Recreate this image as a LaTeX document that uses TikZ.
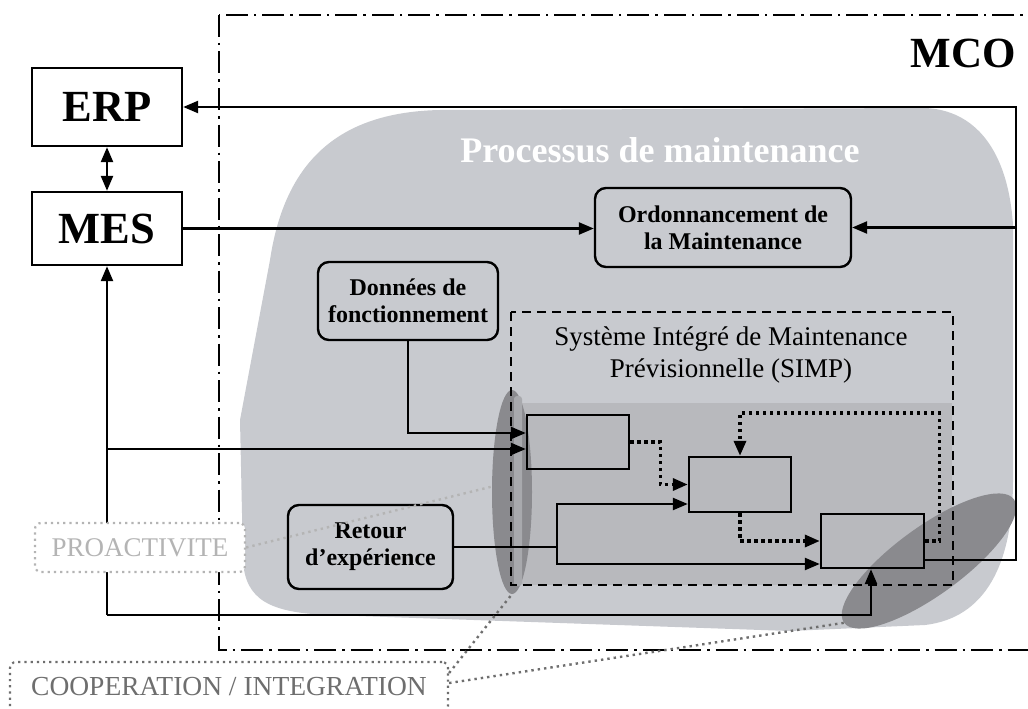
\documentclass[tikz,border=0pt]{standalone}
\usepackage{fontspec}
\setmainfont{Liberation Serif}
\usetikzlibrary{arrows.meta,positioning,shapes.geometric}
\definecolor{procgray}{RGB}{200,202,207}
\definecolor{simpgray}{RGB}{184,185,189}
\definecolor{zonegray}{RGB}{138,138,142}
\definecolor{stripgray}{RGB}{168,169,173}
\definecolor{proxgray}{RGB}{180,180,180}
\definecolor{coopgray}{RGB}{110,110,110}
\tikzset{
    sysbox/.style = {
        draw,
        line width=2.4pt,
        minimum width=150pt,
        inner sep=0pt,
        font=\fontsize{44.5}{50}\selectfont\bfseries,
        },
    taskbox/.style = {
        draw,
        line width=2.4pt,
        rounded corners=11pt,
        inner sep=0pt,
        align=center,
        font=\fontsize{24}{27}\selectfont\bfseries,
        },
    simpblock/.style = {
        draw,
        line width=2.4pt,
        minimum width=102pt,
        minimum height=54pt,
        inner sep=0pt,
        },
    flow/.style = {
        line width=2.4pt,
        -{Triangle[length=15pt, width=12pt]},
        },
    feedback/.style = {
        line width=3.4pt,
        dash pattern=on 3.4pt off 3.6pt,
        -{Triangle[length=15pt, width=12pt]},
        },
    zone/.style = {
        ellipse,
        fill=zonegray,
        inner sep=0pt,
        },
    note/.style = {
        fill=white,
        line width=2.2pt,
        dash pattern=on 2.2pt off 4pt,
        rounded corners=6pt,
        inner sep=0pt,
        },
    link/.style = {
        line width=2.4pt,
        dash pattern=on 2.4pt off 4pt,
        },
}

\begin{document}
\begin{tikzpicture}[x=1pt, y=-1pt]
    \useasboundingbox (0,0) rectangle (1028,709);

    % processus de maintenance
    \fill[procgray] (440,110) -- (925,108) .. controls (975,110) and (1008,150) .. (1013,225)
        -- (1013,480) .. controls (1013,565) and (985,618) .. (925,625) -- (790,631)
        -- (330,615) .. controls (270,613) and (245,600) .. (243,560) -- (240,420)
        -- (270,260) .. controls (285,160) and (340,112) .. (440,110) -- cycle;
    \fill[simpgray] (522,403) rectangle (952,585);
    \node[zone, minimum width=40pt, minimum height=204pt] (lefte) at (512,492) {};
    \node[zone, minimum width=210pt, minimum height=68pt, rotate=36] (righte) at (929,561) {};
    \fill[stripgray, rounded corners=3pt] (514,396) rectangle (522,586);

    \draw[line width=2.2pt, dash pattern=on 22pt off 6pt on 2.5pt off 6pt] (219,15) rectangle (1040,650);
    \draw[line width=2.2pt, dash pattern=on 9pt off 6pt] (511,312) rectangle (953,585);

    \node[font=\fontsize{43}{50}\selectfont\bfseries, anchor=base] (mco) at (963,67) {MCO};
    \node[font=\fontsize{36}{40}\selectfont\bfseries, text=white, anchor=base] (proc) at (660,162) {Processus de maintenance};
    \node[align=center, inner sep=0pt, font=\fontsize{27}{32}\selectfont] (simp) at (731,355) {Système Intégré de Maintenance\\Prévisionnelle (SIMP)};

    \node[sysbox, minimum height=78pt] (erp) at (107,107) {ERP};
    \node[sysbox, minimum height=73pt] (mes) at (107,228.5) {MES};
    \node[taskbox, minimum width=256pt, minimum height=79pt] (ordo) at (723,227.5) {Ordonnancement de\\la Maintenance};
    \node[taskbox, minimum width=180pt, minimum height=78pt] (donnees) at (408,301) {Données de\\fonctionnement};
    \node[taskbox, minimum width=165pt, minimum height=84pt] (retour) at (370.5,547) {Retour\\d’expérience};

    \node[simpblock] (s1) at (578,442) {};
    \node[simpblock, minimum height=55pt] (s2) at (740,484.5) {};
    \node[simpblock, minimum width=103pt] (s3) at (872.5,541) {};

    \coordinate (ne) at (1016,107);
    \coordinate (sw) at (107,615);
    \coordinate (rj) at (557,547);
    \coordinate (m1) at ([yshift=-7pt] s1.west);

    \draw[flow, {Triangle[length=15pt, width=12pt]}-{Triangle[length=15pt, width=12pt]}] (erp) -- (mes);
    \draw[flow] (mes.east) -- (mes.east -| ordo.west);
    \draw[flow] ([yshift=-19pt] s3.east) -| (ne) -- (erp.east);
    \draw[flow] (ne |- ordo.east) -- (ordo.east);
    \draw[flow] (donnees.south) |- ([yshift=9pt] s1.west);
    \draw[flow] (sw) -- (mes.south);
    \draw[flow] (sw |- m1) -- (m1);
    \draw[flow] (sw) -| ([xshift=-1.5pt] s3.south);
    \draw[line width=2.4pt] (retour.east) -- (rj);
    \draw[flow] (rj) |- ([yshift=-19.5pt] s2.west);
    \draw[flow] (rj) |- ([yshift=-23pt] s3.west);

    \draw[feedback] (s1.east) -- ++(30,0) |- (s2.west);
    \draw[feedback] (s2.south) |- (s3.west);
    \draw[feedback] (s3.east) -- ++(14,0) -- ++(0,-128) -| (s2.north);

    \node[note, draw=proxgray, text=proxgray, minimum width=210pt, minimum height=49pt, font=\fontsize{27}{30}\selectfont] (prox) at (140,547.5) {PROACTIVITE};
    \node[note, draw=coopgray, text=coopgray, minimum width=438pt, minimum height=50pt, font=\fontsize{27.5}{32}\selectfont] (coop) at (229,687) {COOPERATION / INTEGRATION};

    \draw[link, proxgray] (prox.east) -- (lefte.165);
    \draw[link, coopgray] ([yshift=14pt] coop.east) -- (lefte.south);
    \draw[link, coopgray] ([yshift=4pt] coop.east) -- (righte.west);
\end{tikzpicture}
\end{document}
